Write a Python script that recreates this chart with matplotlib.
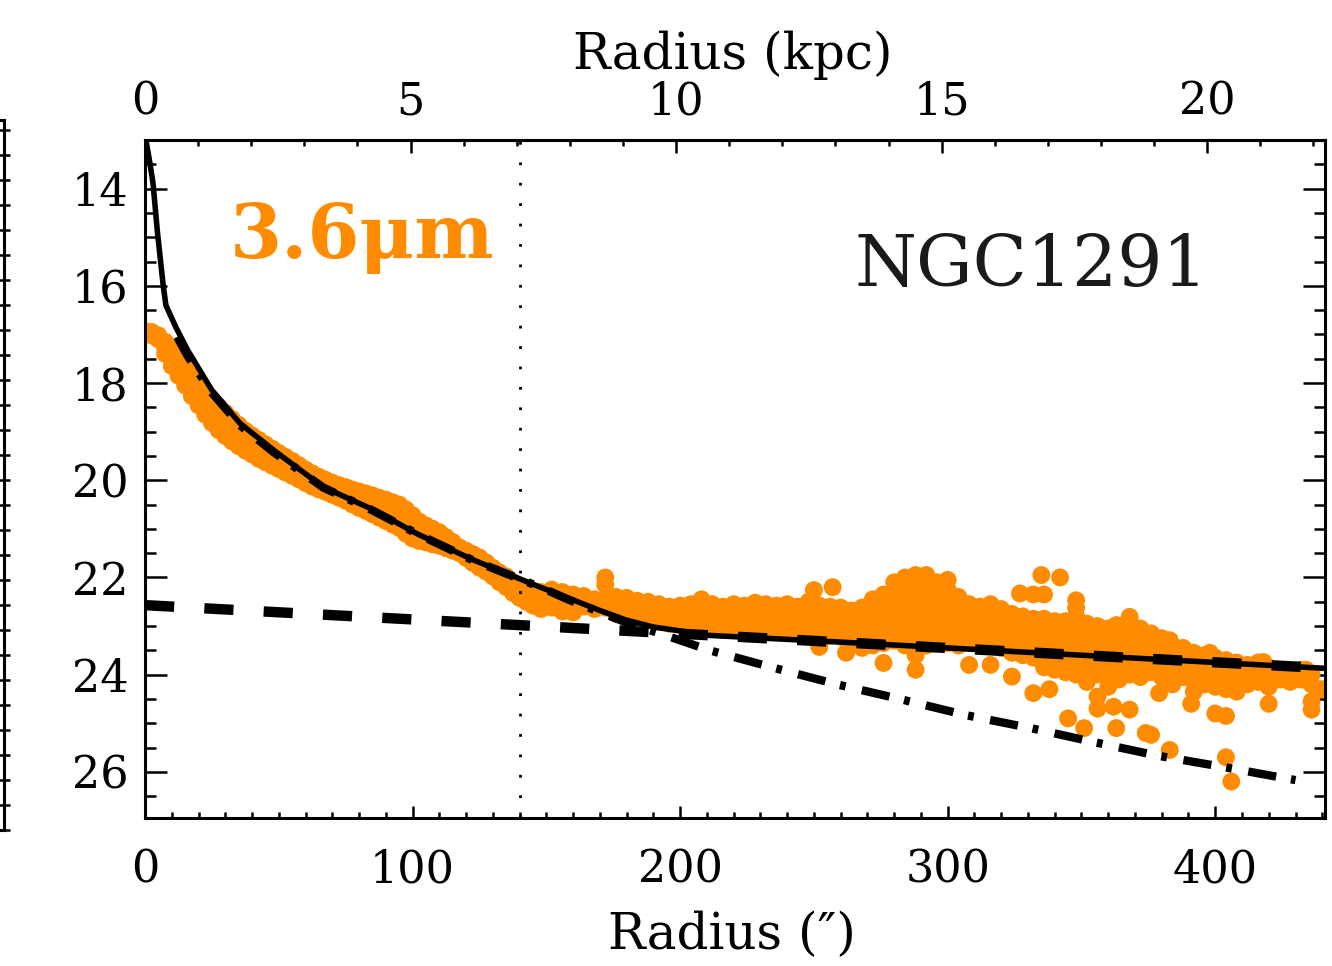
import numpy as np
import matplotlib
matplotlib.use("Agg")
import matplotlib.pyplot as plt
from matplotlib.ticker import FixedLocator, MultipleLocator

ARCSEC_PER_KPC = 19.85
ORANGE = "#ff8c00"

# 3.6 micron surface-brightness profile: radius (arcsec) and the mu values measured there
r_inner = [0, 2.5, 5, 7.5, 10, 12.5, 15, 17.5, 20, 22.5, 25, 27.5, 30, 32.5, 35,
           37.5, 40, 42.5, 45, 47.5, 50, 52.5, 55, 57.5, 60, 62.5, 65, 67.5, 70,
           72.5, 75, 77.5, 80, 82.5, 85, 87.5, 90, 92.5, 95, 97.5, 100, 102.5,
           105, 107.5, 110, 112.5, 115, 117.5, 120, 122.5, 125, 127.5, 130,
           132.5, 135, 137.5, 140, 142.5, 145]
mu_inner = [
    [16.93, 16.98], [16.95, 17.02], [17.02, 17.10], [17.15, 17.28, 17.40],
    [17.30, 17.48, 17.65], [17.48, 17.66, 17.85], [17.65, 17.85, 18.05],
    [17.83, 18.05, 18.27], [18.01, 18.16, 18.31, 18.46],
    [18.18, 18.34, 18.50, 18.65], [18.34, 18.50, 18.66, 18.82],
    [18.48, 18.64, 18.80, 18.97], [18.61, 18.77, 18.93, 19.09],
    [18.74, 18.89, 19.05, 19.20], [18.86, 19.01, 19.16, 19.30],
    [18.98, 19.18, 19.39], [19.08, 19.28, 19.47], [19.17, 19.37, 19.56],
    [19.26, 19.45, 19.63], [19.35, 19.52, 19.70], [19.44, 19.60, 19.77],
    [19.52, 19.68, 19.84], [19.60, 19.76, 19.91], [19.69, 19.84, 19.98],
    [19.78, 19.92, 20.06], [19.86, 20.00, 20.13], [19.93, 20.19],
    [19.99, 20.24], [20.05, 20.30], [20.10, 20.36], [20.14, 20.28, 20.42],
    [20.19, 20.35, 20.50], [20.23, 20.40, 20.57], [20.27, 20.45, 20.63],
    [20.31, 20.50, 20.70], [20.36, 20.56, 20.77], [20.40, 20.62, 20.84],
    [20.45, 20.68, 20.91], [20.50, 20.74, 20.98], [20.60, 20.85, 21.10],
    [20.72, 20.96, 21.20], [20.85, 21.05, 21.25], [20.93, 21.10, 21.28],
    [21.00, 21.16, 21.32], [21.07, 21.35], [21.17, 21.40], [21.27, 21.45],
    [21.38, 21.50], [21.45, 21.60], [21.52, 21.70], [21.59, 21.80],
    [21.69, 21.88], [21.80, 21.98], [21.90, 22.10], [21.98, 22.20],
    [22.10, 22.32], [22.20, 22.42], [22.28, 22.50], [22.35, 22.58],
]

r_outer = [148, 152, 156, 160, 164, 168, 172, 176, 180, 184, 188, 192, 196, 200,
           204, 208, 212, 216, 220, 224, 228, 232, 236, 240, 244, 248, 250, 252,
           256, 257, 260, 262, 264, 268, 272, 276, 280, 284, 288, 292, 296, 300,
           304, 308, 312, 316, 320, 324, 327, 328, 332, 335, 336, 338, 340, 342,
           344, 345, 348, 351, 352, 356, 360, 362, 363, 364, 368, 372, 374, 376,
           379, 380, 383, 384, 388, 391, 392, 396, 398, 400, 404, 406, 408, 412,
           416, 418, 420, 424, 428, 432, 434, 436, 440]
mu_outer = [
    [22.30, 22.50, 22.65], [22.25, 22.45, 22.62], [22.30, 22.50, 22.70],
    [22.35, 22.55, 22.72], [22.38, 22.60], [22.45, 22.65],
    [22.00, 22.15, 22.45, 22.62], [22.40, 22.58, 22.75], [22.42, 22.60, 22.78],
    [22.48, 22.66, 22.82], [22.50, 22.70, 22.85], [22.55, 22.72, 22.90],
    [22.60, 22.78, 22.95], [22.58, 22.75, 22.92], [22.55, 22.72, 22.90, 23.05],
    [22.45, 22.62, 22.80, 22.98], [22.55, 22.72, 22.88, 23.02],
    [22.60, 22.78, 22.95, 23.08], [22.55, 22.72, 22.90, 23.05],
    [22.58, 22.75, 22.92, 23.10], [22.52, 22.70, 22.88, 23.05],
    [22.55, 22.72, 22.90, 23.08], [22.58, 22.76, 22.94, 23.12],
    [22.55, 22.72, 22.90, 23.10], [22.60, 22.78, 22.95, 23.15],
    [22.50, 22.70, 22.90, 23.10], [22.26], [22.58, 22.78, 22.98, 23.18, 23.43],
    [22.60, 22.80, 23.00, 23.20], [22.20], [22.62, 22.82, 23.02, 23.22],
    [23.55], [22.68, 22.88, 23.08, 23.28], [22.62, 22.82, 23.02, 23.25, 23.45],
    [22.45, 22.65, 22.85, 23.05, 23.25, 23.40],
    [22.35, 22.55, 22.75, 22.95, 23.15, 23.35, 23.76],
    [22.10, 22.30, 22.50, 22.70, 22.90, 23.10, 23.30],
    [22.00, 22.20, 22.42, 22.62, 22.82, 23.02, 23.22, 23.40],
    [21.95, 22.15, 22.35, 22.55, 22.75, 22.95, 23.15, 23.35, 23.60, 23.90],
    [21.95, 22.15, 22.38, 22.60, 22.80, 23.00, 23.20, 23.40],
    [22.10, 22.30, 22.50, 22.70, 22.90, 23.10, 23.30],
    [22.05, 22.25, 22.55, 22.75, 22.95, 23.15, 23.35],
    [22.40, 22.60, 22.80, 23.00, 23.20, 23.40],
    [22.55, 22.75, 22.95, 23.15, 23.35, 23.80],
    [22.60, 22.80, 23.00, 23.20, 23.40],
    [22.55, 22.75, 22.95, 23.15, 23.35, 23.80],
    [22.65, 22.85, 23.05, 23.25, 23.45],
    [22.75, 22.95, 23.15, 23.35, 23.55, 24.04], [22.33],
    [22.80, 23.00, 23.20, 23.40, 23.60],
    [22.35, 22.85, 23.05, 23.25, 23.45, 23.65, 24.38], [21.95],
    [22.35, 22.85, 23.05, 23.25, 23.45, 23.65, 23.85], [24.30],
    [22.90, 23.10, 23.30, 23.50, 23.70, 23.90], [22.00],
    [22.90, 23.10, 23.30, 23.50, 23.70, 23.95], [24.90],
    [22.47, 22.62, 22.80, 23.00, 23.20, 23.40, 23.60, 23.80, 24.00], [25.10],
    [22.95, 23.15, 23.35, 23.55, 23.75, 23.95, 24.15],
    [23.00, 23.20, 23.40, 23.60, 23.80, 24.00, 24.45, 24.70],
    [23.05, 23.25, 23.45, 23.65, 23.85, 24.05, 24.25], [24.66], [22.98, 25.10],
    [23.10, 23.30, 23.50, 23.70, 23.90, 24.10],
    [22.81, 23.00, 23.20, 23.40, 23.60, 23.80, 24.00, 24.72],
    [23.05, 23.25, 23.45, 23.65, 23.85, 24.05], [25.20],
    [23.15, 23.35, 23.55, 23.75, 23.95, 25.24], [24.38],
    [23.25, 23.45, 23.65, 23.85, 24.05], [23.29, 25.55],
    [23.40, 23.60, 23.80, 24.00, 24.20], [23.45, 23.65, 23.85, 24.05], [24.60],
    [23.55, 23.75, 23.95, 24.15, 24.35], [23.60, 23.80, 24.00, 24.20], [23.55],
    [23.65, 23.85, 24.05, 24.25, 24.80],
    [23.70, 23.90, 24.10, 24.30, 24.85, 25.70], [26.20],
    [23.75, 23.95, 24.15, 24.35], [23.80, 24.00, 24.20], [23.75, 23.95, 24.15],
    [23.74], [23.85, 24.05, 24.25, 24.60], [23.90, 24.10], [23.95, 24.15],
    [23.90, 24.10], [23.90], [24.00, 24.20, 24.55, 24.72], [24.30],
]

# Decomposition: total model, bulge (Sersic) and disk (exponential)
total_r = [0, 1.9, 3, 4.6, 6.8, 7.8, 11.5, 16, 25, 35.5, 48, 66.6, 85, 101.6,
           122.7, 147.7, 158, 170, 180, 190, 200, 210, 260, 320, 380, 441]
total_mu = [12.9, 13.5, 13.9, 14.88, 16.0, 16.4, 16.85, 17.33, 18.15, 18.83,
            19.38, 20.14, 20.6, 21.1, 21.64, 22.2, 22.42, 22.68, 22.88, 23.02,
            23.1, 23.19, 23.33, 23.51, 23.69, 23.87]
bulge_r = [12, 16, 25, 35.5, 48, 66.6, 85, 101.6, 122.7, 147.7, 158, 180, 195,
           211, 235, 258.6, 282, 306.5, 331, 354, 378.7, 403, 430]
bulge_mu = [17.05, 17.45, 18.2, 18.87, 19.42, 20.15, 20.62, 21.1, 21.65,
            22.2, 22.45, 22.93, 23.2, 23.5, 23.86, 24.2, 24.5, 24.83, 25.1,
            25.38, 25.67, 25.9, 26.17]
disk_r = [0, 432]
disk_mu = [22.57, 23.84]
r_break = 140.2

arcsec_ticks = [0, 100, 200, 300, 400]
kpc_ticks = [0, 5, 10, 15, 20]

plt.rcParams["font.family"] = ["DejaVu Serif", "DejaVu Sans"]

fig = plt.figure(figsize=(13.32, 9.66), dpi=100)

# right-hand frame of the neighbouring panel, cut by the figure edge
ax_prev = fig.add_axes([-0.5, 0.1408, 0.503, 0.735])
ax_prev.set_xlim(0, 1)
ax_prev.set_ylim(0, 710)
ax_prev.set_xticks([])
ax_prev.yaxis.set_major_locator(MultipleLocator(25))
ax_prev.yaxis.tick_right()
ax_prev.tick_params(axis="y", direction="inout", length=9, width=1.8,
                    labelright=False, labelleft=False)
for s in ax_prev.spines.values():
    s.set_linewidth(2.2)

ax = fig.add_axes([0.1089, 0.1532, 0.8858, 0.7018])

pts_r = np.concatenate([np.full(len(m), r, dtype=float)
                        for r, m in zip(r_inner + r_outer, mu_inner + mu_outer)])
pts_mu = np.concatenate([np.asarray(m, dtype=float) for m in mu_inner + mu_outer])
ax.scatter(pts_r, pts_mu, s=165, color=ORANGE, edgecolors="none", zorder=2)

ax.plot(total_r, total_mu, color="black", lw=4.0, zorder=3,
        solid_capstyle="butt")
ax.plot(bulge_r, bulge_mu, color="black", lw=6.0, zorder=4,
        linestyle=(0, (3.4, 1.8, 0.7, 2.0)))
ax.plot(disk_r, disk_mu, color="black", lw=7.5, zorder=4,
        linestyle=(0, (2.8, 2.9)))
ax.axvline(r_break, color="black", lw=2, linestyle=(0, (1, 6.35)), zorder=3)

ax.set_xlim(0, 441)
ax.set_ylim(26.95, 13.0)

ax.xaxis.set_major_locator(FixedLocator(arcsec_ticks))
ax.xaxis.set_minor_locator(FixedLocator(np.arange(0, 441, 10)))
ax.yaxis.set_major_locator(MultipleLocator(2))
ax.yaxis.set_minor_locator(MultipleLocator(0.5))
ax.tick_params(axis="x", which="major", direction="in", length=9, width=1.8,
               top=False, labelsize=32, pad=22)
ax.tick_params(axis="x", which="minor", direction="in", length=4.5, width=1.8,
               top=False)
ax.tick_params(axis="y", which="major", direction="in", length=16, width=1.8,
               right=True, labelsize=32, pad=12)
ax.tick_params(axis="y", which="minor", direction="in", length=8, width=1.8,
               right=True)
for s in ax.spines.values():
    s.set_linewidth(2.2)

top = ax.secondary_xaxis("top", functions=(lambda r: r / ARCSEC_PER_KPC,
                                           lambda k: k * ARCSEC_PER_KPC))
top.xaxis.set_major_locator(FixedLocator(kpc_ticks))
top.xaxis.set_minor_locator(FixedLocator(np.arange(0, 23, 1)))
top.tick_params(which="major", direction="in", length=9, width=1.8,
                labelsize=32, pad=12)
top.tick_params(which="minor", direction="in", length=4.5, width=1.8)
top.spines["top"].set_linewidth(2.2)

fig.text(0.5503, 0.943, "Radius (kpc)", ha="center", va="center", fontsize=36)
fig.text(0.5495, 0.032, "Radius (\u2033)", ha="center", va="center",
         fontsize=36)

ax.text(265, 16.0, "NGC1291", ha="left", va="baseline", fontsize=51,
        color="#1a1a1a")
ax.text(31.8, 15.42, "3.6\u03bcm", ha="left", va="baseline", fontsize=54,
        fontweight="bold", color=ORANGE)

fig.savefig("out.png", dpi=100)
